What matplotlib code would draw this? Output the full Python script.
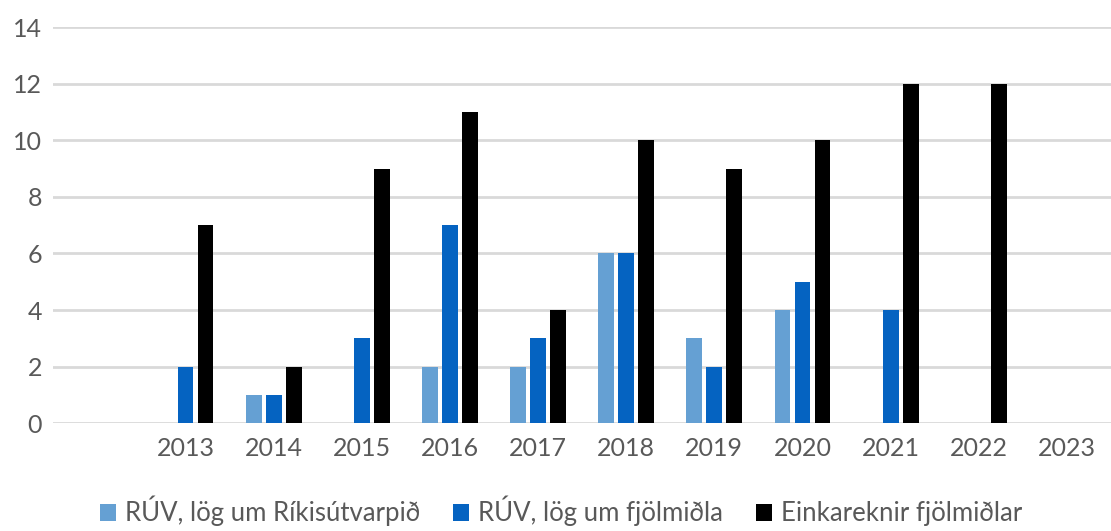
import matplotlib.pyplot as plt
import numpy as np

plt.rcParams['font.family'] = ['Lato', 'DejaVu Sans']

years = ['', '2013', '2014', '2015', '2016', '2017', '2018', '2019', '2020', '2021', '2022', '2023']
ruv_rikis = [0, 0, 1, 0, 2, 2, 6, 3, 4, 0, 0, 0]
ruv_fjolm = [0, 2, 1, 3, 7, 3, 6, 2, 5, 4, 0, 0]
einka = [0, 7, 2, 9, 11, 4, 10, 9, 10, 12, 12, 0]

series = [
    ('RÚV, lög um Ríkisútvarpið', ruv_rikis, '#65A0D3'),
    ('RÚV, lög um fjölmiðla', ruv_fjolm, '#0563C1'),
    ('Einkareknir fjölmiðlar', einka, '#000000'),
]

fig = plt.figure(figsize=(11.11, 5.31), dpi=100, facecolor='white')
ax = fig.add_axes([0.048, 0.203, 0.952, 0.746])

x = np.arange(len(years))
w = 0.18
step = 0.227
for i, (name, vals, col) in enumerate(series):
    ax.bar(x + (i - 1) * step, vals, width=w, color=col, label=name, zorder=3)

ax.set_xlim(-0.5, len(years) - 0.5)
ax.set_ylim(0, 14)
ax.set_yticks(range(0, 15, 2))
ax.set_xticks(x)
ax.set_xticklabels(years)
ax.grid(axis='y', color='#D9D9D9', linewidth=2, zorder=0)
for s in ax.spines.values():
    s.set_visible(False)
ax.tick_params(length=0, labelsize=18, labelcolor='#595959', pad=10)
ax.tick_params(axis='y', pad=8)

fig.legend(loc='lower center', bbox_to_anchor=(0.505, -0.035), ncol=3, frameon=False,
           fontsize=18.5, labelcolor='#595959', handlelength=0.6, handleheight=0.6,
           handletextpad=0.35, columnspacing=1.3)

fig.savefig('out.png', dpi=100, facecolor='white')
